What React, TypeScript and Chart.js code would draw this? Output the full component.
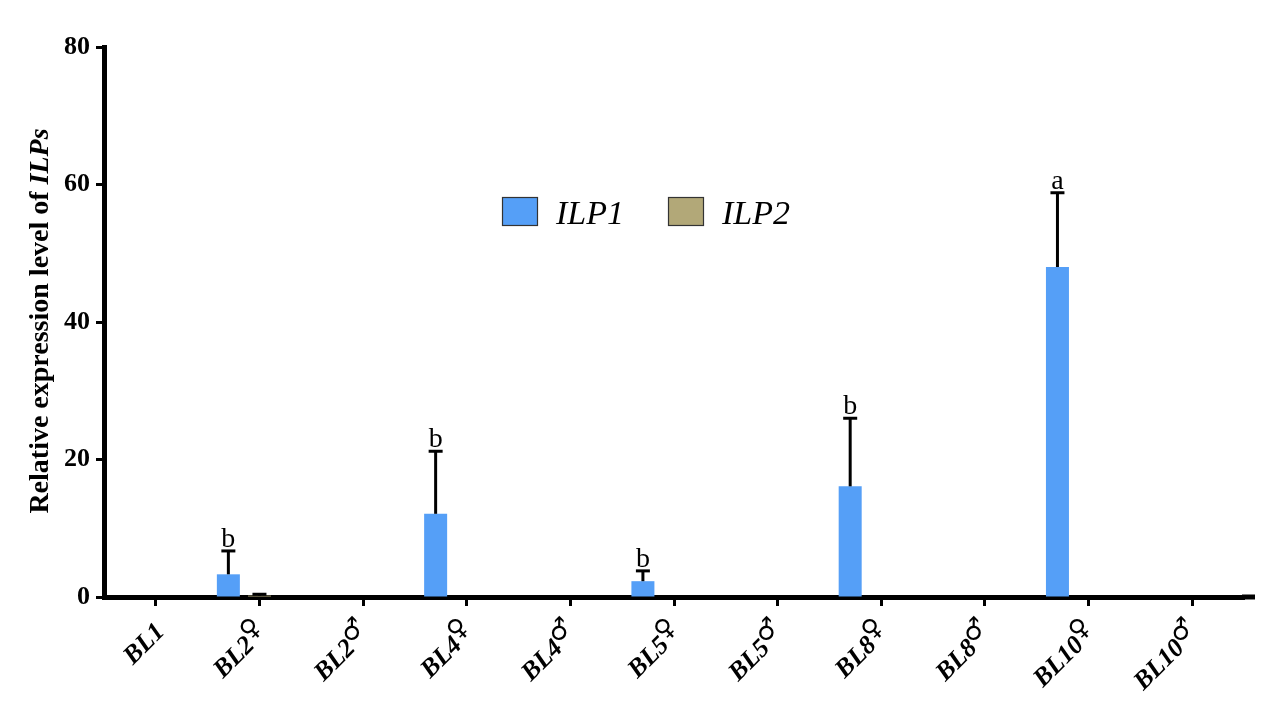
import { useEffect, useRef } from "react";
import { Chart, registerables } from "chart.js";

Chart.register(...registerables);

const categories = ["BL1", "BL2♀", "BL2♂", "BL4♀", "BL4♂", "BL5♀", "BL5♂", "BL8♀", "BL8♂", "BL10♀", "BL10♂"];
const ilp1Values = [0, 3.3, 0, 12.1, 0, 2.3, 0, 16.1, 0, 48.0, 0];
const ilp1Errors = [0, 3.4, 0, 9.1, 0, 1.5, 0, 9.9, 0, 10.8, 0];
const ilp2Values = [0, 0.2, 0, 0, 0, 0, 0, 0, 0, 0, 0];
const ilp2Errors = [0, 0.2, 0, 0, 0, 0, 0, 0, 0, 0, 0];
const letters = ["", "b", "", "b", "", "b", "", "b", "", "a", ""];
const yTicks = [0, 20, 40, 60, 80];

const SERIF = "'Liberation Serif', 'Times New Roman', serif";
const ILP1_COLOR = "#559ff7";
const ILP2_COLOR = "#b2a878";

const errorBarPlugin = {
  id: "errorBars",
  afterDatasetsDraw(chart: any) {
    const { ctx } = chart;
    const yScale = chart.scales.y;
    chart.data.datasets.forEach((ds: any, di: number) => {
      if (!ds.errors) return;
      const meta = chart.getDatasetMeta(di);
      meta.data.forEach((bar: any, i: number) => {
        const v = ds.data[i];
        const e = ds.errors[i];
        const x = bar.x;
        const yTop = yScale.getPixelForValue(v + e);
        ctx.save();
        ctx.strokeStyle = "#000";
        ctx.lineWidth = 3;
        if (e > 0) {
          ctx.beginPath();
          ctx.moveTo(x, yScale.getPixelForValue(v));
          ctx.lineTo(x, yTop);
          ctx.stroke();
          ctx.beginPath();
          ctx.moveTo(x - 7, yTop);
          ctx.lineTo(x + 7, yTop);
          ctx.stroke();
        }
        const lab = ds.letters ? ds.letters[i] : "";
        if (lab) {
          ctx.fillStyle = "#000";
          ctx.font = `28px ${SERIF}`;
          ctx.textAlign = "center";
          ctx.textBaseline = "alphabetic";
          ctx.fillText(lab, x, yTop - 4);
        }
        ctx.restore();
      });
    });
  },
};

const decorPlugin = {
  id: "decor",
  afterDraw(chart: any) {
    const { ctx, chartArea } = chart;
    const xScale = chart.scales.x;
    ctx.save();
    // extend x axis line a little beyond the last category
    ctx.strokeStyle = "#000";
    ctx.lineWidth = 5;
    ctx.beginPath();
    ctx.moveTo(chartArea.right - 2, chartArea.bottom);
    ctx.lineTo(chartArea.right + 11, chartArea.bottom);
    ctx.stroke();

    // x tick labels (bold italic name + regular sex symbol), rotated
    categories.forEach((label, i) => {
      const x = xScale.getPixelForTick(i);
      const m = label.match(/^(.*?)([♀♂]?)$/);
      const main = m ? m[1] : label;
      const sym = m ? m[2] : "";
      ctx.save();
      ctx.translate(x + 5, chartArea.bottom + 31);
      ctx.rotate(-Math.PI / 4);
      ctx.fillStyle = "#000";
      ctx.textBaseline = "middle";
      ctx.textAlign = "left";
      const mainFont = `italic bold 26px ${SERIF}`;
      const symFont = `26px 'DejaVu Sans', sans-serif`;
      ctx.font = mainFont;
      const w1 = ctx.measureText(main).width;
      ctx.font = symFont;
      const w2 = sym ? ctx.measureText(sym).width : 0;
      const total = w1 + w2;
      ctx.font = mainFont;
      ctx.fillText(main, -total, 0);
      if (sym) {
        ctx.font = symFont;
        ctx.fillText(sym, -total + w1 - 1, -8);
      }
      ctx.restore();
    });

    // y axis title with italic ILPs
    ctx.save();
    ctx.translate(48, (chartArea.top + chartArea.bottom) / 2 - 1);
    ctx.rotate(-Math.PI / 2);
    ctx.fillStyle = "#000";
    ctx.textBaseline = "alphabetic";
    ctx.textAlign = "left";
    const t1 = "Relative expression level of ";
    const t2 = "ILPs";
    const f1 = `bold 28px ${SERIF}`;
    const f2 = `italic bold 28px ${SERIF}`;
    ctx.font = f1;
    const tw1 = ctx.measureText(t1).width;
    ctx.font = f2;
    const tw2 = ctx.measureText(t2).width;
    const start = -(tw1 + tw2) / 2;
    ctx.font = f1;
    ctx.fillText(t1, start, 0);
    ctx.font = f2;
    ctx.fillText(t2, start + tw1, 0);
    ctx.restore();

    // legend inside plot
    const items = chart.data.datasets.filter((d: any) => d.inLegend);
    const pos = [
      { bx: 502, tx: 556 },
      { bx: 668, tx: 722 },
    ];
    items.forEach((d: any, k: number) => {
      const p = pos[k];
      const y = 197;
      ctx.fillStyle = d.backgroundColor;
      ctx.fillRect(p.bx, y, 35, 28);
      ctx.strokeStyle = "#333";
      ctx.lineWidth = 1.2;
      ctx.strokeRect(p.bx + 0.5, y + 0.5, 35, 28);
      ctx.fillStyle = "#000";
      ctx.font = `italic 34px ${SERIF}`;
      ctx.textAlign = "left";
      ctx.textBaseline = "alphabetic";
      ctx.fillText(d.label, p.tx, y + 27);
    });
    ctx.restore();
  },
};

export default function App() {
  const ref = useRef<HTMLCanvasElement | null>(null);
  useEffect(() => {
    if (!ref.current) return;
    const chart = new Chart(ref.current, {
      type: "bar",
      data: {
        labels: categories,
        datasets: [
          {
            label: "ILP1",
            data: ilp1Values,
            errors: ilp1Errors,
            letters: letters,
            inLegend: true,
            backgroundColor: ILP1_COLOR,
            borderWidth: 0,
            barPercentage: 0.74,
            categoryPercentage: 0.9,
          } as any,
          {
            label: "ILP2",
            data: ilp2Values,
            errors: ilp2Errors,
            inLegend: true,
            backgroundColor: ILP2_COLOR,
            borderWidth: 0,
            barPercentage: 0.74,
            categoryPercentage: 0.9,
          } as any,
          {
            label: "",
            data: [],
            backgroundColor: "rgba(0,0,0,0)",
            barPercentage: 0.74,
            categoryPercentage: 0.9,
          } as any,
        ],
      },
      options: {
        responsive: false,
        animation: false,
        devicePixelRatio: 1,
        layout: { padding: { top: 47, right: 25, left: 0, bottom: 0 } },
        plugins: {
          legend: { display: false },
          tooltip: { enabled: false },
        },
        scales: {
          x: {
            type: "category",
            offset: true,
            grid: {
              offset: false,
              drawOnChartArea: false,
              drawTicks: true,
              tickLength: 9,
              tickWidth: 3,
              tickColor: "#000",
            },
            border: { display: true, width: 5, color: "#000" },
            ticks: { display: false },
            afterFit: (s: any) => {
              s.height = 114;
            },
          },
          y: {
            min: 0,
            max: 80,
            afterBuildTicks: (s: any) => {
              s.ticks = yTicks.map((v) => ({ value: v }));
            },
            ticks: {
              color: "#000",
              font: { family: SERIF, size: 26, weight: "bold" },
              padding: 6,
            },
            grid: {
              drawOnChartArea: false,
              drawTicks: true,
              tickLength: 8,
              tickWidth: 3,
              tickColor: "#000",
            },
            border: { display: true, width: 5, color: "#000" },
            afterFit: (s: any) => {
              s.width = 104;
            },
          },
        },
      } as any,
      plugins: [errorBarPlugin, decorPlugin],
    });
    return () => chart.destroy();
  }, []);
  return (
    <div style={{ position: "fixed", left: 0, top: 0, width: 1269, height: 711, background: "#fff" }}>
      <canvas ref={ref} width={1269} height={711} style={{ display: "block" }} />
    </div>
  );
}
